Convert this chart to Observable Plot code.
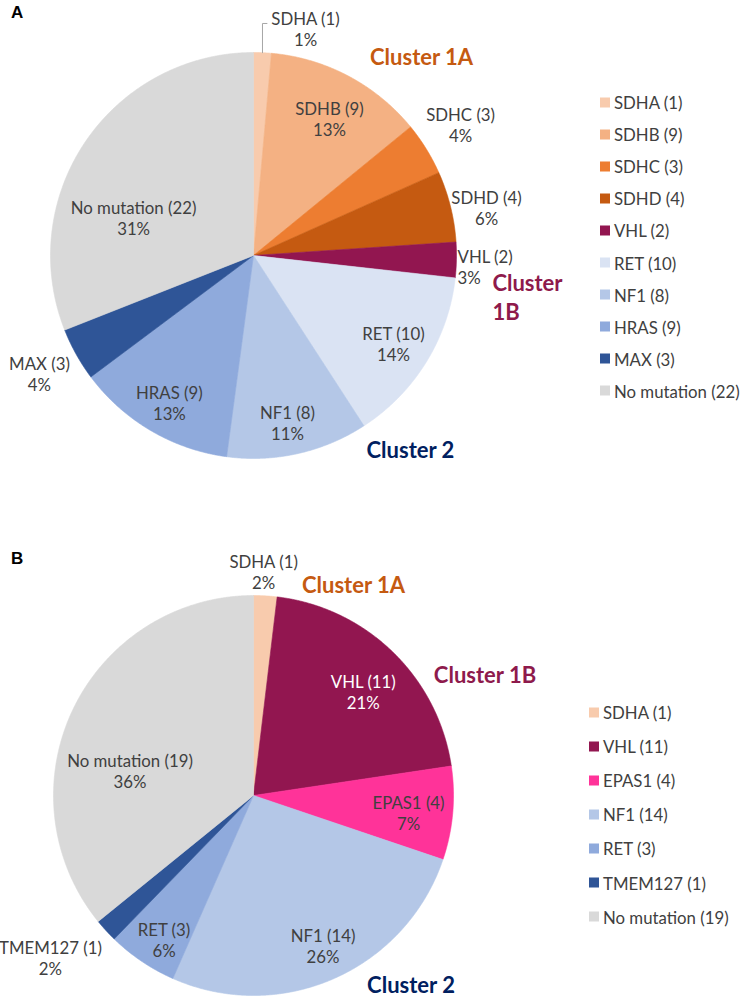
<!DOCTYPE html>
<html><head><meta charset="utf-8">
<script src="https://cdn.jsdelivr.net/npm/d3@7"></script>
<script src="https://cdn.jsdelivr.net/npm/@observablehq/plot@0.6"></script>
<style>
body{margin:0;background:#fff;font-family:Lato,"Open Sans",sans-serif;}
#root{position:relative;width:750px;height:998px;overflow:hidden;background:#fff;}
.panel{position:absolute;left:0;}
.letter{position:absolute;font:bold 17px "Liberation Sans",Arial,sans-serif;color:#000;}
.legend{position:absolute;font-size:16.8px;color:#404040;font-family:Lato,sans-serif;}
.legend .item{position:absolute;left:0;white-space:nowrap;display:flex;align-items:center;transform:translateY(-50%);}
.legend .sw{width:10px;height:10px;margin-right:4px;flex:none;}
</style></head><body><div id="root"></div>
<script>
// ---------- Data: panel A ----------
const genesA  = ["SDHA","SDHB","SDHC","SDHD","VHL","RET","NF1","HRAS","MAX","No mutation"];
const countsA = [1, 9, 3, 4, 2, 10, 8, 9, 3, 22];
const pctA    = ["1%","13%","4%","6%","3%","14%","11%","13%","4%","31%"];
const colorsA = ["#f8cbad","#f4b183","#ed7d31","#c55a11","#921650","#dae3f3","#b4c7e7","#8faadc","#2f5597","#d9d9d9"];
const clustersA = ["Cluster 1A","Cluster 1B","Cluster 2"];

// ---------- Data: panel B ----------
const genesB  = ["SDHA","VHL","EPAS1","NF1","RET","TMEM127","No mutation"];
const countsB = [1, 11, 4, 14, 3, 1, 19];
const pctB    = ["2%","21%","7%","26%","6%","2%","36%"];
const colorsB = ["#f8cbad","#921650","#ff3399","#b4c7e7","#8faadc","#2f5597","#d9d9d9"];
const clustersB = ["Cluster 1A","Cluster 1B","Cluster 2"];

const clusterColors = ["#c55a11","#8e1a4c","#002060"];

// ---------- Layout (label placement relative to slice mid-angle) ----------
const layoutA = {
  top: 0, height: 490, cx: 253, cy: 255, r: 203,
  labelR:     [1.145, 0.77, 1.207, 1.172, 1.0065, 0.816, 0.842, 0.836, 1.205, 0.619],
  labelShift: [10.4, 1.2, -0.6, 2.3, 1.8, 0.6, 1.2, -0.7, 0.2, -16.8],
  labelAnchor: ["middle","middle","middle","middle","start","middle","middle","middle","middle","middle"],
  leader: [0],
  clusterPos: [[0.828, 0.985, "middle"], [1.177, -0.202, "start"], [0.773, -0.951, "middle"]],
  clusterText: ["Cluster 1A", "Cluster\n1B", "Cluster 2"],
  legend: {left: 600, top: 102, step: 32.1},
  letter: {text: "A", left: 11, top: 3}
};
const layoutB = {
  top: 490, height: 508, cx: 253, cy: 795, r: 200,
  labelR:     [1.12, 0.755, 0.78, 0.83, 0.85, 1.3, 0.63],
  labelShift: [-0.8, 2.5, 1.3, -1, -2.2, 3.8, -14],
  labelAnchor: ["middle","middle","middle","middle","middle","middle","middle"],
  leader: [],
  clusterPos: [[0.5, 1.06, "middle"], [1.1575, 0.61, "middle"], [0.7875, -0.94, "middle"]],
  clusterText: ["Cluster 1A", "Cluster 1B", "Cluster 2"],
  legend: {left: 589, top: 712, step: 34.1},
  letter: {text: "B", left: 11, top: 549}
};

const root = document.getElementById("root");
const FONT = "Lato, 'Open Sans', sans-serif";
const LABEL_SIZE = 16.8;

function panel(genes, counts, pcts, colors, L) {
  const rows = genes.map((g, i) => ({name: g, count: counts[i], pct: pcts[i], color: colors[i], i}));
  const arcs = d3.pie().sort(null).value(d => d.count)(rows);
  const pts = arcs.flatMap(a => {
    const n = Math.max(4, Math.ceil((a.endAngle - a.startAngle) / 0.004));
    const out = [{name: a.data.name, x: 0, y: 0}];
    for (let k = 0; k <= n; k++) {
      const t = a.startAngle + (a.endAngle - a.startAngle) * k / n;
      out.push({name: a.data.name, x: Math.sin(t), y: Math.cos(t)});
    }
    out.push({name: a.data.name, x: 0, y: 0});
    return out;
  });
  const labels = arcs.map(a => {
    const i = a.data.i;
    const mid = (a.startAngle + a.endAngle) / 2 + L.labelShift[i] * Math.PI / 180;
    const k = L.labelR[i];
    const dark = d3.lab(a.data.color).l < 40;
    return {x: k * Math.sin(mid), y: k * Math.cos(mid), text: `${a.data.name} (${a.data.count})\n${a.data.pct}`,
            fill: (dark && k < 1) ? "#ffffff" : "#404040", anchor: L.labelAnchor[i],
            arcMid: (a.startAngle + a.endAngle) / 2};
  });
  const leaders = L.leader.map(i => {
    const lb = labels[i];
    return [
      {x: Math.sin(lb.arcMid), y: Math.cos(lb.arcMid)},
      {x: Math.sin(lb.arcMid), y: lb.y + 0.027},
      {x: lb.x - 0.19, y: lb.y + 0.027}
    ];
  });
  const groups = d3.groups(labels, d => d.fill + "|" + d.anchor);
  const marks = [
    Plot.line(pts, {x: "x", y: "y", z: "name", fill: "name", stroke: "name", strokeWidth: 0.6}),
    ...leaders.map(seg => Plot.line(seg, {x: "x", y: "y", stroke: "#a6a6a6", strokeWidth: 1})),
    ...groups.map(([key, arr]) => Plot.text(arr, {x: "x", y: "y", text: "text", fill: arr[0].fill,
      textAnchor: arr[0].anchor, fontSize: LABEL_SIZE, lineHeight: 1.25, lineAnchor: "middle"})),
    ...L.clusterPos.map((p, j) => Plot.text([{x: p[0], y: p[1], t: L.clusterText[j]}], {
      x: "x", y: "y", text: "t", fill: clusterColors[j], fontSize: 22, fontWeight: "bold",
      textAnchor: p[2], lineHeight: 1.3, lineAnchor: "middle"}))
  ];
  const localCy = L.cy - L.top;
  const svg = Plot.plot({
    width: 750, height: L.height, margin: 0,
    style: {fontFamily: FONT, background: "transparent", overflow: "visible"},
    x: {domain: [-1, 1], range: [L.cx - L.r, L.cx + L.r], axis: null},
    y: {domain: [-1, 1], range: [localCy + L.r, localCy - L.r], axis: null},
    color: {domain: genes, range: colors},
    marks
  });
  svg.classList.add("panel");
  svg.style.top = L.top + "px";
  root.appendChild(svg);

  const lg = document.createElement("div");
  lg.className = "legend";
  lg.style.left = L.legend.left + "px";
  lg.style.top = L.legend.top + "px";
  rows.forEach((d, i) => {
    const it = document.createElement("div");
    it.className = "item";
    it.style.top = (i * L.legend.step) + "px";
    const sw = document.createElement("span");
    sw.className = "sw"; sw.style.background = d.color;
    const tx = document.createElement("span");
    tx.textContent = `${d.name} (${d.count})`;
    it.appendChild(sw); it.appendChild(tx);
    lg.appendChild(it);
  });
  root.appendChild(lg);

  const le = document.createElement("div");
  le.className = "letter";
  le.textContent = L.letter.text;
  le.style.left = L.letter.left + "px";
  le.style.top = L.letter.top + "px";
  root.appendChild(le);
}

panel(genesA, countsA, pctA, colorsA, layoutA);
panel(genesB, countsB, pctB, colorsB, layoutB);
</script>
</body></html>
